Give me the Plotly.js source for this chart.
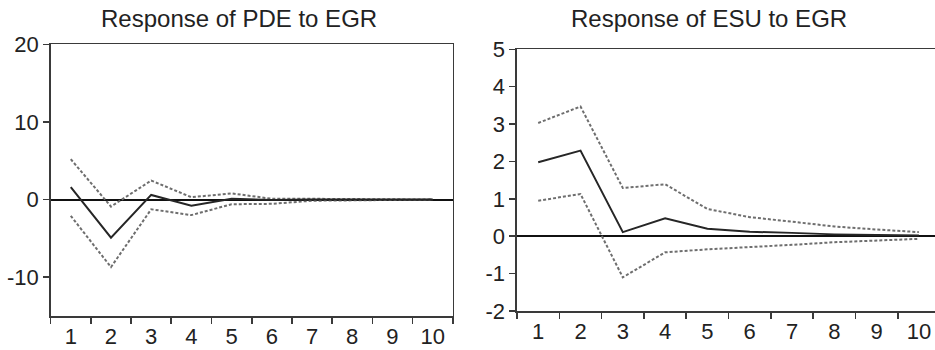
<!DOCTYPE html>
<html>
<head>
<meta charset="utf-8">
<script src="https://cdn.plot.ly/plotly-3.0.1.min.js"></script>
<style>html,body{margin:0;padding:0;background:#fff;}#chart{width:935px;height:350px;}</style>
</head>
<body>
<div id="chart"></div>
<script>
const periods = ["1","2","3","4","5","6","7","8","9","10"];

const pdeResponse = [1.6, -4.9, 0.6, -0.8, 0.1, -0.05, 0.0, 0.0, 0.0, 0.0];
const pdeUpper    = [5.2, -0.9, 2.45, 0.3, 0.8, 0.1, 0.1, 0.05, 0.0, 0.0];
const pdeLower    = [-2.1, -8.7, -1.25, -2.0, -0.6, -0.55, -0.15, -0.1, 0.0, 0.0];

const esuResponse = [1.98, 2.29, 0.11, 0.48, 0.2, 0.12, 0.09, 0.05, 0.03, 0.02];
const esuUpper    = [3.03, 3.47, 1.29, 1.39, 0.73, 0.51, 0.39, 0.26, 0.18, 0.11];
const esuLower    = [0.95, 1.13, -1.1, -0.43, -0.35, -0.3, -0.23, -0.16, -0.12, -0.07];

const titles = ["Response of PDE to EGR", "Response of ESU to EGR"];
const pdeTicks = [-10, 0, 10, 20];
const pdeTickText = ["-10", "0", "10", "20"];
const esuTicks = [-2, -1, 0, 1, 2, 3, 4, 5];
const esuTickText = ["-2", "-1", "0", "1", "2", "3", "4", "5"];

const solid = {color: "#262626", width: 2};
const dashed = {color: "#6e6e6e", width: 2, dash: "3px,2px"};

function tr(y, line, xa, ya) {
  return {x: periods, y: y, type: "scatter", mode: "lines", line: line, xaxis: xa, yaxis: ya, hoverinfo: "skip"};
}

const data = [
  tr(pdeUpper, dashed, "x", "y"),
  tr(pdeLower, dashed, "x", "y"),
  tr(pdeResponse, solid, "x", "y"),
  tr(esuUpper, dashed, "x2", "y2"),
  tr(esuLower, dashed, "x2", "y2"),
  tr(esuResponse, solid, "x2", "y2")
];

const font = {family: "Liberation Sans, Arial, sans-serif", color: "#222", size: 22};
const axLine = {showline: true, linecolor: "#3a3a3a", linewidth: 1.6, ticks: "outside", tickcolor: "#3a3a3a", tickwidth: 1.6, showgrid: false};

const xBase = Object.assign({}, axLine, {type: "category", tickson: "boundaries", ticklen: 6, zeroline: false, tickfont: font, fixedrange: true});
const yBase = Object.assign({}, axLine, {ticklen: 6, zeroline: true, zerolinecolor: "#111", zerolinewidth: 2, tickfont: font, fixedrange: true});

const layout = {
  width: 935, height: 350,
  margin: {l: 0, r: 0, t: 0, b: 0},
  paper_bgcolor: "#fff", plot_bgcolor: "#fff",
  showlegend: false,
  font: font,
  xaxis: Object.assign({}, xBase, {domain: [0.0542, 0.4842], range: [-0.5, 9.5], mirror: true, anchor: "y"}),
  yaxis: Object.assign({}, yBase, {domain: [0.0971, 0.8734], range: [-15, 20], tickvals: pdeTicks, ticktext: pdeTickText, mirror: true, anchor: "x"}),
  xaxis2: Object.assign({}, xBase, {domain: [0.553, 1], range: [-0.5, 9.38], mirror: true, anchor: "y2"}),
  yaxis2: Object.assign({}, yBase, {domain: [0.1114, 0.8591], range: [-2, 5], tickvals: esuTicks, ticktext: esuTickText, mirror: false, anchor: "x2"}),
  annotations: [
    {text: titles[0], xref: "paper", yref: "paper", x: 239/935, y: (350-19)/350, xanchor: "center", yanchor: "middle", showarrow: false, font: {family: font.family, size: 24, color: "#222"}},
    {text: titles[1], xref: "paper", yref: "paper", x: 709/935, y: (350-19)/350, xanchor: "center", yanchor: "middle", showarrow: false, font: {family: font.family, size: 24, color: "#222"}}
  ]
};

Plotly.newPlot("chart", data, layout, {staticPlot: true, displayModeBar: false});
</script>
</body>
</html>
